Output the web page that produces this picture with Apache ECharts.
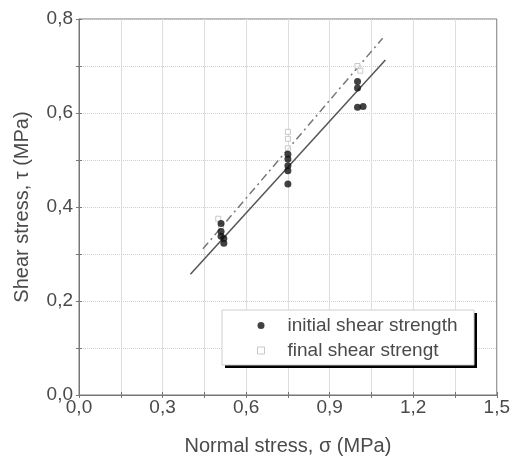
<!DOCTYPE html>
<html><head><meta charset="utf-8">
<script src="https://cdn.jsdelivr.net/npm/echarts@6/dist/echarts.min.js"></script>
<style>html,body{margin:0;padding:0;background:#fff}#c{width:513px;height:461px}</style>
</head><body><div id="c"></div>
<script>
// Data
const initialX = [0.51, 0.51, 0.51, 0.52, 0.52, 0.75, 0.75, 0.75, 0.75, 0.75, 1.0, 1.0, 1.0, 1.02];
const initialY = [0.365, 0.348, 0.338, 0.333, 0.323, 0.512, 0.502, 0.488, 0.477, 0.449, 0.667, 0.653, 0.612, 0.614];
const finalX = [0.50, 0.51, 0.75, 0.75, 0.75, 1.0, 1.01];
const finalY = [0.375, 0.360, 0.560, 0.545, 0.525, 0.700, 0.690];
const fitInitialX = [0.40, 1.10];
const fitInitialY = [0.257, 0.713];
const fitFinalX = [0.445, 1.09];
const fitFinalY = [0.311, 0.759];
const seriesNames = ['initial shear strength', 'final shear strengt'];
const xAxisName = 'Normal stress, σ (MPa)';
const yAxisName = 'Shear stress, τ (MPa)';

const zip = (a, b) => a.map((v, i) => [v, b[i]]);
const fmt = v => v.toFixed(1).replace('.', ',');
const txt = '#4a4a4a';
const axisCol = '#777';
const baseX = {type: 'value', min: 0, max: 1.5, interval: 0.15};
const baseY = {type: 'value', min: 0, max: 0.8, interval: 0.1};
const mirror = {
  axisLine: {show: false}, axisLabel: {show: false}, splitLine: {show: false},
  axisTick: {inside: true, length: 3, lineStyle: {color: axisCol}}
};
const chart = echarts.init(document.getElementById('c'));
chart.setOption({
  animation: false,
  textStyle: {fontFamily: 'Liberation Sans, Arial, sans-serif'},
  grid: {left: 79, top: 19, right: 13, bottom: 63, show: true, borderColor: axisCol, borderWidth: 1},
  xAxis: [Object.assign({}, baseX, {
    name: xAxisName, nameLocation: 'middle', nameGap: 41,
    nameTextStyle: {fontSize: 20, color: txt},
    axisLine: {onZero: false, lineStyle: {color: axisCol}},
    axisTick: {inside: true, length: 3, lineStyle: {color: axisCol}},
    axisLabel: {fontSize: 19, color: txt, margin: 3,
      formatter: v => (Math.round(v / 0.15) % 2 === 0 ? fmt(v) : '')},
    splitLine: {lineStyle: {color: '#dedede', type: 'solid'}}
  }), Object.assign({}, baseX, mirror, {position: 'top'})],
  yAxis: [Object.assign({}, baseY, {
    name: yAxisName, nameLocation: 'middle', nameGap: 47,
    nameTextStyle: {fontSize: 20, color: txt},
    axisLine: {onZero: false, lineStyle: {color: axisCol}},
    axisTick: {inside: true, length: 3, lineStyle: {color: axisCol}},
    axisLabel: {fontSize: 19, color: txt, margin: 6,
      formatter: v => (Math.round(v / 0.1) % 2 === 0 ? fmt(v) : '')},
    splitLine: {lineStyle: {color: '#cfcfcf', type: 'dotted'}}
  }), Object.assign({}, baseY, mirror, {position: 'right'})],
  graphic: [
    {type: 'rect', z: 5, shape: {x: 225, y: 313, width: 252, height: 55}, style: {fill: '#000'}},
    {type: 'rect', z: 6, shape: {x: 222, y: 310, width: 252, height: 55}, style: {fill: '#fff', stroke: '#d0d0d0', lineWidth: 1}}
  ],
  legend: {
    orient: 'vertical', left: 222, top: 310, z: 10,
    padding: [6, 10, 6, 35], itemGap: 6, itemWidth: 7, itemHeight: 7,
    backgroundColor: 'transparent', borderWidth: 0,
    textStyle: {fontSize: 19, color: txt, padding: [0, 0, 0, 18]},
    data: [
      {name: seriesNames[0], icon: 'circle', itemStyle: {color: '#111'}},
      {name: seriesNames[1], icon: 'rect', itemStyle: {color: '#fff', borderColor: '#bbb', borderWidth: 1}}
    ]
  },
  series: [
    {type: 'line', data: zip(fitInitialX, fitInitialY), symbol: 'none', silent: true,
      lineStyle: {color: '#555', width: 1.5}, z: 2},
    {type: 'line', data: zip(fitFinalX, fitFinalY), symbol: 'none', silent: true,
      lineStyle: {color: '#777', width: 1.5, type: [8, 4, 2, 4]}, z: 2},
    {name: seriesNames[1], type: 'scatter', data: zip(finalX, finalY), symbol: 'rect', symbolSize: 5,
      itemStyle: {color: '#fff', borderColor: '#bbb', borderWidth: 1}, z: 3},
    {name: seriesNames[0], type: 'scatter', data: zip(initialX, initialY), symbol: 'circle', symbolSize: 7,
      itemStyle: {color: '#111'}, z: 4}
  ]
});
</script></body></html>
